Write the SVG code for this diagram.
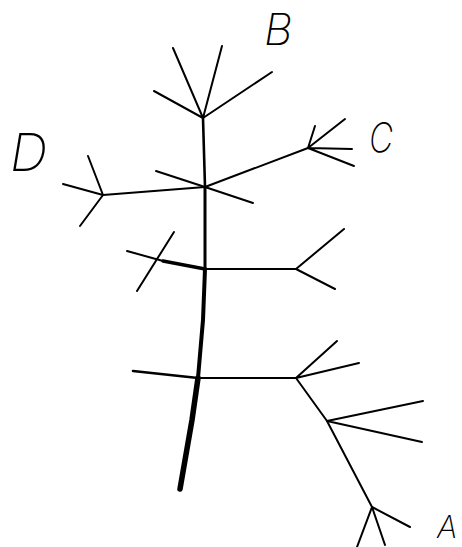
<svg xmlns="http://www.w3.org/2000/svg" width="462" height="547" viewBox="0 0 462 547">
<style>
.l{stroke:#000;fill:none;stroke-linecap:round;stroke-linejoin:round}
.t1{stroke-width:1.5}
.t2{stroke-width:2}
.lbl{font-family:Inter,"Liberation Sans",sans-serif;font-style:italic;font-weight:200;fill:#000}
</style>
<rect width="462" height="547" fill="#fff"/>
<g id="connectors" class="l">
<path d="M203,118 L205,187" stroke-width="2.6"/>
<path d="M205,187 L205,269" stroke-width="3"/>
<path d="M205,269 L203,320 L198,378" stroke-width="4"/>
<path d="M198,378 L192,420 L180,489" stroke-width="5.5"/>
<path class="t2" d="M205,187 L103,195"/>
<path class="t2" d="M205,187 L308,148"/>
<path class="t2" d="M205,269 L296,269"/>
<path class="t2" d="M198,378 L296,378"/>
<path class="t2" d="M296,378 L327,421"/>
<path class="t2" d="M327,421 L372,507"/>
</g>
<g id="nodeB" class="l t2">
<path d="M203,118 L173,48 M203,118 L222,46 M203,118 L154,91 M203,118 L272,72"/>
<text class="lbl" x="264" y="45" font-size="44" stroke="none">B</text>
</g>
<g id="nodeC" class="l t2">
<path d="M308,148 L345,119 M308,148 L315,126 M308,148 L352,149 M308,148 L354,166"/>
<text class="lbl" x="369" y="152" font-size="41" stroke="none" textLength="24" lengthAdjust="spacingAndGlyphs">C</text>
</g>
<g id="nodeD" class="l t2">
<path d="M103,195 L88,156 M103,195 L63,184 M103,195 L80,226"/>
<text class="lbl" x="10" y="171" font-size="52" stroke="none">D</text>
</g>
<g id="nodeMid1" class="l t2">
<path d="M205,187 L156,171 M205,187 L253,203"/>
</g>
<g id="nodeMid2" class="l">
<path d="M205,269 L163,261" stroke-width="3.5"/>
<path class="t2" d="M163,261 L127,251 M174,232 L137,291"/>
<path class="t2" d="M296,269 L344,229 M296,269 L335,289"/>
</g>
<g id="nodeMid3" class="l">
<path d="M198,378 L133,371" stroke-width="2.6"/>
<path class="t2" d="M296,378 L337,341 M296,378 L359,363"/>
</g>
<g id="nodeMid4" class="l t2">
<path d="M327,421 L423,401 M327,421 L422,442"/>
</g>
<g id="nodeA" class="l t2">
<path d="M372,507 L410,527 M372,507 L385,545 M372,507 L357,547"/>
<text class="lbl" x="437" y="538" font-size="31" stroke="none">A</text>
</g>
</svg>
